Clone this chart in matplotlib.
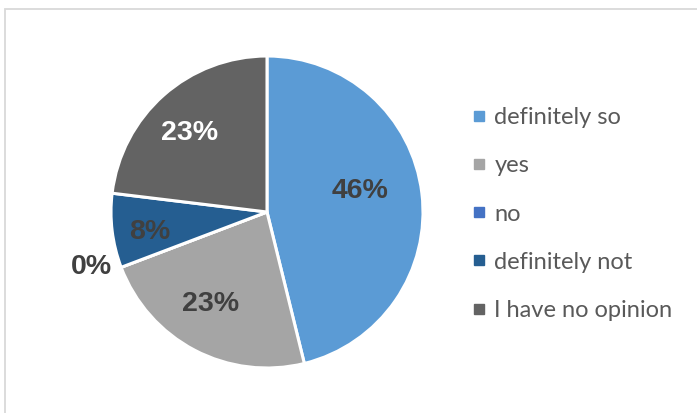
import numpy as np
import matplotlib
matplotlib.use("Agg")
import matplotlib.pyplot as plt
from matplotlib.patches import Rectangle
from matplotlib.lines import Line2D

categories = ["definitely so", "yes", "no", "definitely not", "I have no opinion"]
counts = [6, 3, 0, 1, 3]
pct_labels = ["46%", "23%", "0%", "8%", "23%"]
colors = ["#5B9BD5", "#A5A5A5", "#4472C4", "#255E91", "#636363"]
label_colors = ["#404040", "#404040", "#404040", "#404040", "#FFFFFF"]
label_dist = [0.61, 0.69, 1.18, 0.76, 0.71]
label_shift = [6.0, -4.0, -3.5, 3.0, 3.0]  # degrees, counter-clockwise

W, H = 697, 413
fig = plt.figure(figsize=(W / 100, H / 100), dpi=100)
fig.patch.set_facecolor("white")

# chart border (cropped on right / bottom)
fig.add_artist(Rectangle((5 / W, -0.05), 1.1, 1 - 9 / H + 0.05, transform=fig.transFigure,
                         fill=False, edgecolor="#D9D9D9", linewidth=1.3))

cx, cy, R = 267, 212, 156
ax = fig.add_axes([(cx - R) / W, (H - cy - R) / H, 2 * R / W, 2 * R / H])
wedges, _ = ax.pie(counts, colors=colors, startangle=90, counterclock=False,
                   radius=1.0, wedgeprops=dict(edgecolor="white", linewidth=2.2))
ax.set_xlim(-1, 1)
ax.set_ylim(-1, 1)
ax.set_aspect("equal")
ax.axis("off")

total = float(sum(counts))
angle = 90.0
for i, c in enumerate(counts):
    span = 360.0 * c / total
    mid = np.deg2rad(angle - span / 2 + label_shift[i])
    angle -= span
    d = label_dist[i]
    ax.text(d * np.cos(mid), d * np.sin(mid), pct_labels[i], ha="center", va="center",
            fontsize=20.5, fontweight="bold", color=label_colors[i],
            family=["Liberation Sans", "DejaVu Sans"])

handles = [Line2D([], [], marker="s", linestyle="none", markersize=6.5,
                  markerfacecolor=col, markeredgecolor=col) for col in colors]
fig.legend(handles, categories, loc="upper left", bbox_to_anchor=(452 / W, 1 - 86 / H),
           frameon=False, handlelength=0.5, handletextpad=0.4, labelspacing=1.15,
           prop=dict(family=["Lato", "DejaVu Sans"], size=17), labelcolor="#595959")

fig.savefig("out.png", dpi=100, facecolor="white")
